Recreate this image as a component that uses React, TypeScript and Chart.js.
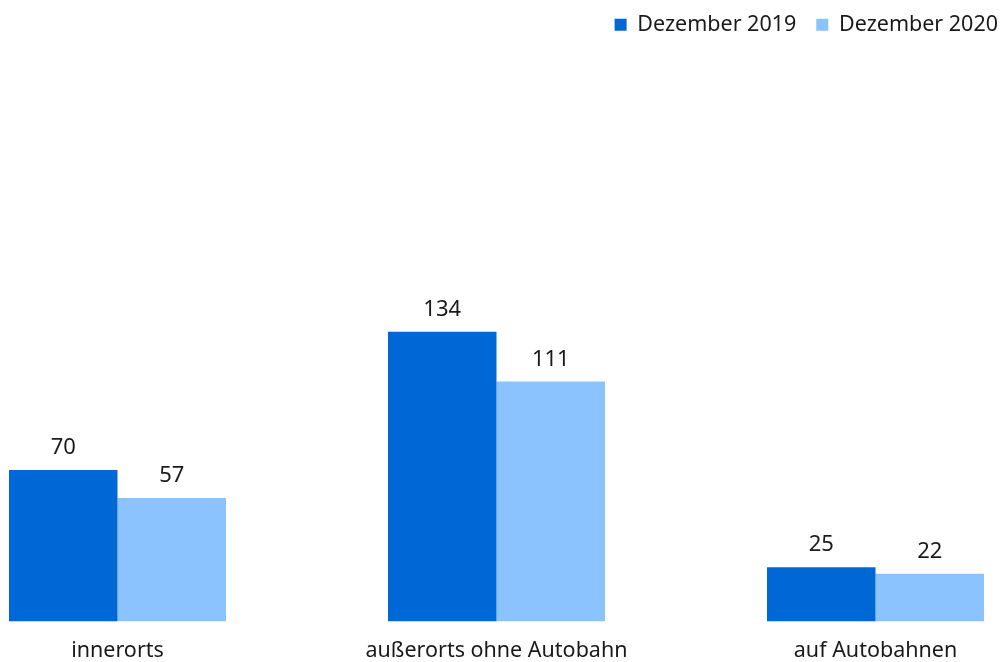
import React, { useEffect, useRef } from "react";
import { Chart, registerables } from "chart.js";

Chart.register(...registerables);

const categories = ["innerorts", "außerorts ohne Autobahn", "auf Autobahnen"];
const seriesNames = ["Dezember 2019", "Dezember 2020"];
const values2019 = [70, 134, 25];
const values2020 = [57, 111, 22];
const colors = ["#0068d6", "#8ac3ff"];

const FONT = "'Noto Sans', sans-serif";
const LEGEND_RIGHT = 998;

const valueLabels = {
  id: "valueLabels",
  afterDatasetsDraw(chart: any) {
    const ctx = chart.ctx;
    ctx.save();
    ctx.font = `22px ${FONT}`;
    ctx.fillStyle = "#1a1a1a";
    ctx.textAlign = "center";
    ctx.textBaseline = "alphabetic";
    chart.data.datasets.forEach((ds: any, i: number) => {
      const meta = chart.getDatasetMeta(i);
      meta.data.forEach((el: any, j: number) => {
        ctx.fillText(String(ds.data[j]), el.x, el.y - 16);
      });
    });
    ctx.restore();
  },
};

const shiftLegend = {
  id: "shiftLegend",
  afterLayout(chart: any) {
    const lg = chart.legend;
    if (!lg || !lg.lineWidths) return;
    const used = lg.lineWidths[0];
    const newRight = LEGEND_RIGHT + 20;
    lg.left = newRight - Math.max(lg.width, used + 40);
    lg.right = newRight;
    lg.width = lg.right - lg.left;
  },
};

export default function App() {
  const ref = useRef<HTMLCanvasElement>(null);
  useEffect(() => {
    document.body.style.margin = "0";
    const chart = new Chart(ref.current!, {
      type: "bar",
      data: {
        labels: categories,
        datasets: [
          { label: seriesNames[0], data: values2019, backgroundColor: colors[0], clip: false as any },
          { label: seriesNames[1], data: values2020, backgroundColor: colors[1], clip: false as any },
        ],
      },
      options: {
        animation: false,
        responsive: false,
        maintainAspectRatio: false,
        layout: { padding: { left: 117.5, right: 126.5, top: -6, bottom: -19 } },
        datasets: { bar: { categoryPercentage: 0.5726, barPercentage: 1 } } as any,
        plugins: {
          legend: {
            position: "top",
            align: "end",
            labels: {
              boxWidth: 12,
              boxHeight: 12,
              padding: 20,
              color: "#1a1a1a",
              font: { family: FONT, size: 21.5 },
            },
          },
          tooltip: { enabled: false },
        },
        scales: {
          x: {
            offset: false,
            grid: { display: false, drawTicks: false },
            border: { display: false },
            ticks: { color: "#1a1a1a", font: { family: FONT, size: 21.5 }, padding: 17, maxRotation: 0, autoSkip: false },
          },
          y: {
            display: false,
            min: 0,
            max: 266.6,
          },
        },
      },
      plugins: [valueLabels, shiftLegend],
    });
    return () => chart.destroy();
  }, []);
  return (
    <div style={{ position: "absolute", left: 0, top: 0, width: 1002, height: 662 }}>
      <canvas ref={ref} width={1002} height={662} style={{ display: "block" }} />
    </div>
  );
}
